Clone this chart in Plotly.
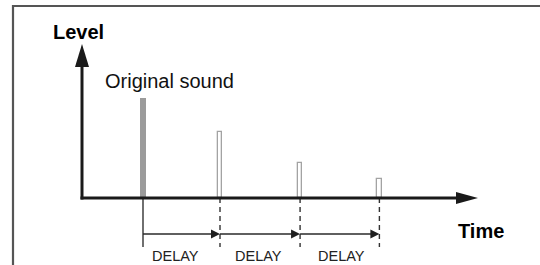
import plotly.graph_objects as go

# ---- data (time in delay steps, level in arbitrary units) ----
times = [0.0, 1.0, 2.04, 3.07]
levels = [100, 66, 35, 19]
bar_kinds = ["original", "echo", "echo", "echo"]
delay_labels = ["DELAY", "DELAY", "DELAY"]
title_y = "Level"
title_x = "Time"
orig_label = "Original sound"

W, H = 540, 265
FONT = "Liberation Sans, Arial, Helvetica, sans-serif"
INK = "#1a1a1a"

fig = go.Figure()

# bars
widths = [0.078 if k == "original" else 0.055 for k in bar_kinds]
fills = ["#9b9b9b" if k == "original" else "white" for k in bar_kinds]
lws = [0 if k == "original" else 1.3 for k in bar_kinds]
fig.add_trace(go.Bar(
    x=times, y=levels, width=widths,
    marker=dict(color=fills, line=dict(color="#a3a3a3", width=lws)),
    hoverinfo="skip", showlegend=False,
))

shapes = []
annotations = []

# vertical guide lines below the axis (data coords)
guide_bottom = -49
for i, t in enumerate(times):
    shapes.append(dict(type="line", xref="x", yref="y", x0=t, x1=t, y0=0, y1=guide_bottom,
                       line=dict(color="#333333", width=1.4,
                                 dash="solid" if i == 0 else "5px,4px"),
                       layer="above"))

# delay arrows between consecutive sounds
arrow_y = -36
head_len = 0.117
head_half = 4.5
for i in range(len(times) - 1):
    t0, t1 = times[i], times[i + 1]
    shapes.append(dict(type="line", xref="x", yref="y", x0=t0, x1=t1 - head_len * 0.6,
                       y0=arrow_y, y1=arrow_y, line=dict(color="#2a2a2a", width=1.4),
                       layer="above"))
    shapes.append(dict(type="path", xref="x", yref="y",
                       path=f"M {t1},{arrow_y} L {t1-head_len},{arrow_y+head_half} "
                            f"L {t1-head_len},{arrow_y-head_half} Z",
                       fillcolor="#1f1f1f", line=dict(width=0), layer="above"))
    xs = [-6, -2, 2][i]
    annotations.append(dict(xref="x", yref="y", x=(t0 + t1) / 2, y=-57.5, xshift=xs,
                            text=delay_labels[i], showarrow=False, borderpad=0,
                            font=dict(family=FONT, size=14.5, color="#222222")))

# ---- decorations in pixel space (x2/y2) ----
# frame
shapes.append(dict(type="path", xref="x2", yref="y2",
                   path="M 13,270 L 13,6 L 545,6", line=dict(color="#555555", width=2.2)))
# y axis arrow
shapes.append(dict(type="line", xref="x2", yref="y2", x0=82, x1=82, y0=199.5, y1=64,
                   line=dict(color=INK, width=3), layer="above"))
shapes.append(dict(type="path", xref="x2", yref="y2",
                   path="M 82,44 L 89,67 L 75,67 Z", fillcolor=INK, line=dict(width=0),
                   layer="above"))
# x axis arrow
shapes.append(dict(type="line", xref="x2", yref="y2", x0=80.5, x1=460, y0=198, y1=198,
                   line=dict(color=INK, width=3), layer="above"))
shapes.append(dict(type="path", xref="x2", yref="y2",
                   path="M 478,198 L 456,192 L 456,204 Z", fillcolor=INK, line=dict(width=0),
                   layer="above"))

annotations.append(dict(xref="x2", yref="y2", x=78.5, y=32, text=f"<b>{title_y}</b>",
                        showarrow=False, font=dict(family=FONT, size=20, color="black")))
annotations.append(dict(xref="x2", yref="y2", x=481, y=230.5, text=f"<b>{title_x}</b>",
                        showarrow=False, font=dict(family=FONT, size=20, color="black")))
annotations.append(dict(xref="x2", yref="y2", x=103, y=81, xanchor="left",
                        text=orig_label, showarrow=False,
                        font=dict(family=FONT, size=20, color="#111111")))

# data axes: time 0 at px 143, 77 px per step; level 0 at px 198, 1 px per unit
fig.update_layout(
    width=W, height=H,
    margin=dict(l=0, r=0, t=0, b=0),
    paper_bgcolor="white", plot_bgcolor="white",
    xaxis=dict(range=[-143 / 77, (W - 143) / 77], visible=False, fixedrange=True),
    yaxis=dict(range=[198 - H, 198], visible=False, fixedrange=True),
    xaxis2=dict(range=[0, W], overlaying="x", visible=False, fixedrange=True),
    yaxis2=dict(range=[H, 0], overlaying="y", visible=False, fixedrange=True),
    shapes=shapes,
    annotations=annotations,
    bargap=0,
)
# dummy invisible trace so x2/y2 exist
fig.add_trace(go.Scatter(x=[0], y=[0], xaxis="x2", yaxis="y2", mode="markers",
                         marker=dict(opacity=0), hoverinfo="skip", showlegend=False))

fig.write_html("out.html", config={"displayModeBar": False},
               post_script="document.body.style.margin='0';document.body.style.overflow='hidden';")
